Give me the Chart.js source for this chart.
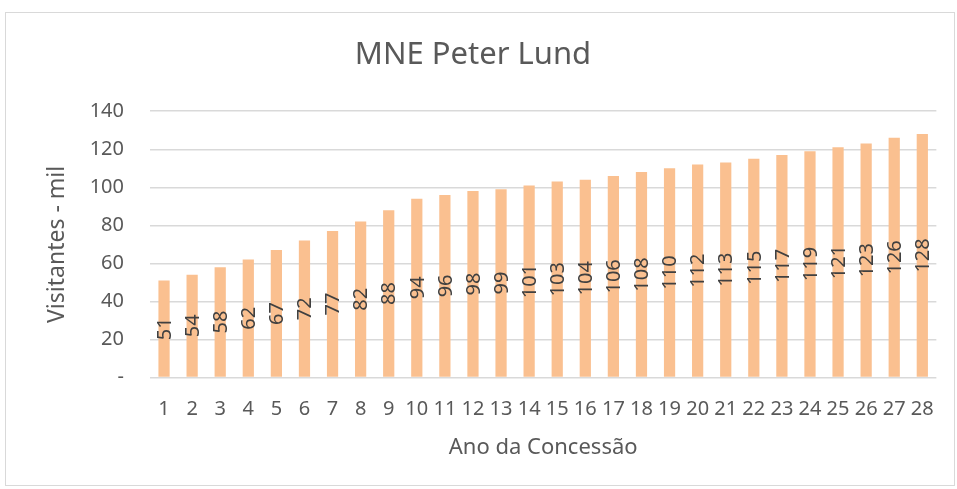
<!DOCTYPE html>
<html>
<head>
<meta charset="utf-8">
<script src="https://cdn.jsdelivr.net/npm/chart.js@4/dist/chart.umd.min.js"></script>
<style>
  html, body { margin: 0; padding: 0; background: #fff; }
  #frame {
    position: absolute; left: 5px; top: 12px;
    width: 950px; height: 474px;
    border: 1px solid #d9d9d9; box-sizing: border-box;
  }
</style>
</head>
<body>
<div id="frame"><canvas id="chart"></canvas></div>
<script>
// Visitors per concession year (thousands)
const years = ['1','2','3','4','5','6','7','8','9','10','11','12','13','14',
               '15','16','17','18','19','20','21','22','23','24','25','26','27','28'];
const visitors = [51, 54, 58, 62, 67, 72, 77, 82, 88, 94, 96, 98, 99, 101,
                  103, 104, 106, 108, 110, 112, 113, 115, 117, 119, 121, 123, 126, 128];
const yTicks = [0, 20, 40, 60, 80, 100, 120, 140];

const FONT = "'Noto Sans', sans-serif";
const TEXT = '#595959';

// draw each value rotated, centred in its bar
const barLabels = {
  id: 'barLabels',
  afterDatasetsDraw(chart) {
    const { ctx } = chart;
    const meta = chart.getDatasetMeta(0);
    ctx.save();
    ctx.fillStyle = '#404040';
    ctx.font = `20px ${FONT}`;
    ctx.textAlign = 'center';
    ctx.textBaseline = 'middle';
    meta.data.forEach((bar, i) => {
      const mid = (bar.y + bar.base) / 2;
      ctx.save();
      ctx.translate(bar.x, mid);
      ctx.rotate(-Math.PI / 2);
      ctx.fillText(String(visitors[i]), 0, 1);
      ctx.restore();
    });
    ctx.restore();
  }
};

new Chart(document.getElementById('chart'), {
  type: 'bar',
  data: {
    labels: years,
    datasets: [{
      data: visitors,
      backgroundColor: '#FAC090',
      barPercentage: 0.4,
      categoryPercentage: 1,
    }],
  },
  options: {
    responsive: true,
    maintainAspectRatio: false,
    animation: false,
    layout: { padding: { left: 0, right: 14, top: 0, bottom: 24 } },
    plugins: {
      legend: { display: false },
      tooltip: { enabled: false },
      title: {
        display: true,
        text: 'MNE Peter Lund',
        color: TEXT,
        font: { family: FONT, size: 31, weight: 'normal' },
        padding: { top: 24, bottom: 37 },
      },
    },
    scales: {
      x: {
        grid: { display: false, drawTicks: false },
        border: { display: false },
        ticks: { color: TEXT, font: { family: FONT, size: 20 }, padding: 20, maxRotation: 0, autoSkip: false },
        title: {
          display: true, text: 'Ano da Concessão', color: TEXT,
          font: { family: FONT, size: 22 }, padding: { top: -7, bottom: 0 },
        },
      },
      y: {
        min: 0, max: 140,
        afterBuildTicks: (axis) => { axis.ticks = yTicks.map((v) => ({ value: v })); },
        afterFit: (axis) => { axis.width = 144; },
        grid: { color: '#d9d9d9', lineWidth: 1.5, drawTicks: false },
        border: { display: false },
        ticks: {
          color: TEXT, font: { family: FONT, size: 20 }, padding: 26,
          callback: (v) => (v === 0 ? '-' : v),
        },
        title: {
          display: true, text: 'Visitantes - mil', color: TEXT,
          font: { family: FONT, size: 23 }, padding: { top: 38, bottom: 0 },
        },
      },
    },
  },
  plugins: [barLabels],
});
</script>
</body>
</html>
